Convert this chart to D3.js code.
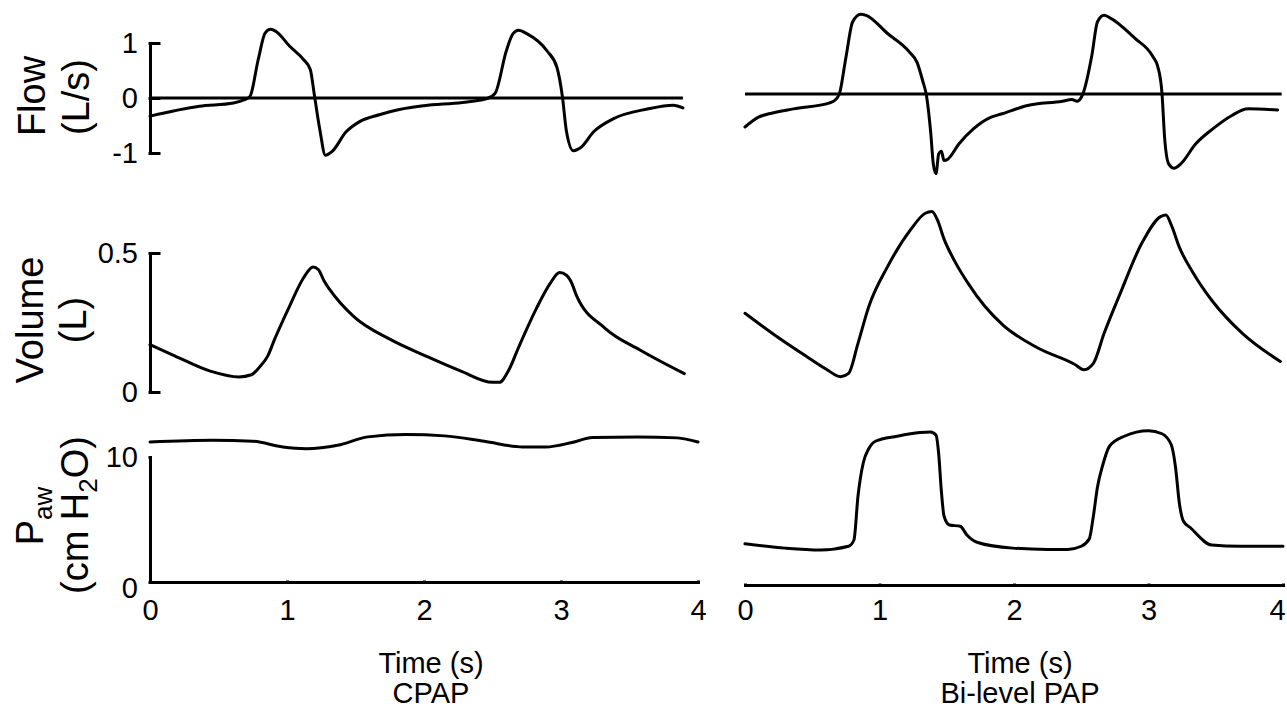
<!DOCTYPE html>
<html>
<head>
<meta charset="utf-8">
<script src="https://cdn.jsdelivr.net/npm/d3@7"></script>
<style>
    body { margin: 0; background: #fff; }
    svg { display: block; }
    text { font-family: "Liberation Sans", Arial, sans-serif; fill: #000; }
</style>
</head>
<body>
<div id="chart"></div>
<script>
// values: [time (s), value]
const timeTicks = [0, 1, 2, 3, 4];

const cpapFlow = [[0,-0.33],[0.36,-0.15],[0.61,-0.09],[0.69,-0.03],[0.73,0.03],[0.79,0.70],[0.84,1.18],[0.88,1.25],[0.92,1.21],
    [1.02,0.94],[1.12,0.70],[1.17,0.52],[1.20,0.05],[1.24,-0.58],[1.28,-1.04],[1.33,-0.97],[1.43,-0.62],[1.53,-0.43],[1.68,-0.30],
    [1.82,-0.21],[2.0,-0.14],[2.28,-0.08],[2.46,-0.01],[2.52,0.09],[2.60,0.85],[2.65,1.17],[2.69,1.23],[2.75,1.17],[2.90,0.85],
    [2.97,0.56],[3.01,0.03],[3.04,-0.61],[3.09,-0.96],[3.14,-0.91],[3.24,-0.61],[3.38,-0.38],[3.63,-0.20],[3.82,-0.13],[3.89,-0.18]];

const cpapVolume = [[0,0.17],[0.18,0.13],[0.44,0.075],[0.65,0.054],[0.74,0.062],[0.80,0.09],[0.86,0.13],[0.91,0.19],[1.02,0.31],
    [1.12,0.41],[1.19,0.45],[1.23,0.44],[1.27,0.40],[1.31,0.37],[1.49,0.27],[1.75,0.19],[2.01,0.13],[2.27,0.075],[2.50,0.035],
    [2.55,0.035],[2.62,0.08],[2.69,0.16],[2.82,0.30],[2.92,0.39],[2.99,0.43],[3.04,0.42],[3.08,0.39],[3.11,0.35],[3.32,0.23],
    [3.58,0.15],[3.90,0.066]];

const cpapPressure = [[0,11.2],[0.46,11.34],[0.75,11.26],[0.97,10.8],[1.14,10.67],[1.37,10.94],[1.59,11.61],[1.87,11.8],[2.15,11.69],
    [2.44,11.26],[2.72,10.8],[2.89,10.8],[3.08,11.16],[3.23,11.56],[3.56,11.61],[3.85,11.53],[4.0,11.2]];

const biFlow = [[0,-0.60],[0.10,-0.42],[0.18,-0.36],[0.36,-0.27],[0.63,-0.16],[0.66,-0.13],[0.70,-0.01],[0.75,0.66],[0.80,1.31],
    [0.86,1.45],[0.90,1.43],[1.06,1.10],[1.22,0.77],[1.28,0.57],[1.32,0.25],[1.35,-0.04],[1.38,-0.68],[1.40,-1.27],[1.42,-1.45],
    [1.44,-1.09],[1.46,-1.04],[1.48,-1.21],[1.51,-1.18],[1.59,-0.91],[1.70,-0.63],[1.83,-0.42],[1.91,-0.36],[2.10,-0.21],[2.36,-0.13],
    [2.43,-0.10],[2.47,-0.13],[2.51,-0.01],[2.58,0.72],[2.62,1.31],[2.67,1.43],[2.71,1.39],[2.90,1.01],[3.03,0.69],[3.07,0.49],
    [3.10,0.02],[3.12,-0.80],[3.15,-1.27],[3.19,-1.35],[3.24,-1.27],[3.35,-0.91],[3.48,-0.63],[3.62,-0.39],[3.74,-0.27],[3.96,-0.29]];

const biVolume = [[0,0.283],[0.22,0.205],[0.45,0.13],[0.61,0.08],[0.71,0.055],[0.77,0.067],[0.84,0.175],[0.92,0.307],[1.06,0.451],
    [1.23,0.583],[1.34,0.643],[1.39,0.649],[1.43,0.62],[1.48,0.55],[1.56,0.47],[1.66,0.39],[1.78,0.31],[1.92,0.24],[2.17,0.16],
    [2.45,0.10],[2.52,0.08],[2.59,0.103],[2.67,0.211],[2.79,0.355],[2.95,0.535],[3.09,0.631],[3.13,0.637],[3.17,0.60],[3.23,0.52],
    [3.33,0.43],[3.47,0.33],[3.70,0.21],[3.98,0.11]];

const biPressure = [[0,3.3],[0.3,2.95],[0.56,2.8],[0.77,3.1],[0.81,3.6],[0.84,7.1],[0.88,9.8],[0.92,10.9],[0.97,11.5],[1.13,11.9],
    [1.30,12.2],[1.38,12.25],[1.42,12.0],[1.44,10.5],[1.46,7.5],[1.48,5.5],[1.52,4.8],[1.60,4.7],[1.65,4.0],[1.73,3.4],[1.99,2.95],
    [2.25,2.85],[2.40,2.85],[2.50,3.1],[2.56,3.7],[2.59,5.5],[2.62,7.8],[2.66,9.6],[2.71,11.1],[2.82,11.9],[3.0,12.35],[3.10,12.1],
    [3.17,11.2],[3.20,9.5],[3.23,6.5],[3.26,5.1],[3.31,4.6],[3.47,3.2],[3.68,3.1],[4.0,3.1]];

const flowTicks = [-1, 0, 1];
const volumeTicks = [0, 0.5];
const pressureTicks = [0, 10];

// plain tick text: "-1", "0.5", "10" (hyphen, no trailing zeros)
const plain = d => String(d);

// SVG
const width = 1287, height = 713;
const svg = d3.select("#chart").append("svg")
    .attr("width", width)
    .attr("height", height);

const xLeft = d3.scaleLinear().domain([0, 4]).range([150, 698]);
const xRight = d3.scaleLinear().domain([0, 4]).range([745, 1283]);

const yFlowL = d3.scaleLinear().domain([-1, 1]).range([153, 43]);
const yFlowR = d3.scaleLinear().domain([-1, 1]).range([149, 39]);
const yVolL = d3.scaleLinear().domain([0, 0.5]).range([392, 253]);
const yVolR = d3.scaleLinear().domain([0, 0.5]).range([392, 253]);
const yPresL = d3.scaleLinear().domain([0, 10]).range([582, 457]);
const yPresR = d3.scaleLinear().domain([0, 10]).range([585, 460]);

const lw = 3;

function trace(data, x, y) {
    const line = d3.line()
        .x(d => x(d[0]))
        .y(d => y(d[1]))
        .curve(d3.curveMonotoneX);
    svg.append("path")
        .datum(data)
        .attr("d", line)
        .attr("fill", "none")
        .attr("stroke", "#000")
        .attr("stroke-width", lw)
        .attr("stroke-linejoin", "round")
        .attr("stroke-linecap", "round");
}

function styleAxis(g, fontSize) {
    g.selectAll("path, line")
        .attr("stroke", "#000")
        .attr("stroke-width", lw)
        .attr("stroke-linecap", "square");
    g.selectAll("text")
        .attr("font-size", fontSize)
        .attr("font-family", "Liberation Sans, Arial, sans-serif")
        .attr("fill", "#000");
    g.attr("font-size", null).attr("font-family", null);
}

// zero lines of the flow rows
svg.append("line")
    .attr("x1", xLeft(0)).attr("x2", xLeft(3.89))
    .attr("y1", yFlowL(0)).attr("y2", yFlowL(0))
    .attr("stroke", "#000").attr("stroke-width", lw);
svg.append("line")
    .attr("x1", xRight(0)).attr("x2", xRight(3.99))
    .attr("y1", yFlowR(0)).attr("y2", yFlowR(0))
    .attr("stroke", "#000").attr("stroke-width", lw);

// y axes (left column only)
svg.append("g")
    .attr("transform", "translate(" + xLeft(0) + ",0)")
    .call(d3.axisLeft(yFlowL).tickValues(flowTicks).tickFormat(plain).tickSizeInner(-9).tickSizeOuter(0).tickPadding(12))
    .call(g => styleAxis(g, 29));

svg.append("g")
    .attr("transform", "translate(" + xLeft(0) + ",0)")
    .call(d3.axisLeft(yVolL).tickValues(volumeTicks).tickFormat(plain).tickSizeInner(-9).tickSizeOuter(0).tickPadding(12))
    .call(g => styleAxis(g, 29));

svg.append("g")
    .attr("transform", "translate(" + xLeft(0) + ",0)")
    .call(d3.axisLeft(yPresL).tickValues(pressureTicks).tickFormat(plain).tickSize(0).tickPadding(12))
    .call(g => styleAxis(g, 29))
    .call(g => g.selectAll(".tick text").filter(d => d === 0).attr("dy", "0.55em"));

// x axes
svg.append("g")
    .attr("transform", "translate(0," + yPresL(0) + ")")
    .call(d3.axisBottom(xLeft).tickValues(timeTicks).tickFormat(plain).tickSize(0).tickPadding(17))
    .call(g => styleAxis(g, 29));

svg.append("g")
    .attr("transform", "translate(0," + yPresR(0) + ")")
    .call(d3.axisBottom(xRight).tickValues(timeTicks).tickFormat(plain).tickSize(0).tickPadding(14))
    .call(g => styleAxis(g, 29))
    .call(g => g.selectAll(".tick text").filter(d => d === 4).attr("dx", -6));

// traces
trace(cpapFlow, xLeft, yFlowL);
trace(cpapVolume, xLeft, yVolL);
trace(cpapPressure, xLeft, yPresL);
trace(biFlow, xRight, yFlowR);
trace(biVolume, xRight, yVolR);
trace(biPressure, xRight, yPresR);

// y labels
function yLabel(x, y, build) {
    const t = svg.append("text")
        .attr("transform", "translate(" + x + "," + y + ") rotate(-90)")
        .attr("text-anchor", "middle")
        .attr("font-size", 38);
    build(t);
}
yLabel(45, 96, t => t.text("Flow"));
yLabel(89, 97, t => t.text("(L/s)"));
yLabel(43, 320, t => t.text("Volume"));
yLabel(86, 320, t => t.text("(L)"));
yLabel(43, 516, t => {
    t.append("tspan").text("P");
    t.append("tspan").attr("dy", 9).attr("font-size", 26).text("aw");
});
yLabel(88, 515, t => {
    t.append("tspan").text("(cm H");
    t.append("tspan").attr("dy", 9).attr("font-size", 26).text("2");
    t.append("tspan").attr("dy", -9).text("O)");
});

// x labels
svg.append("text").attr("x", 431).attr("y", 673).attr("text-anchor", "middle").attr("font-size", 29).text("Time (s)");
svg.append("text").attr("x", 431).attr("y", 703).attr("text-anchor", "middle").attr("font-size", 29).text("CPAP");
svg.append("text").attr("x", 1020).attr("y", 673).attr("text-anchor", "middle").attr("font-size", 29).text("Time (s)");
svg.append("text").attr("x", 1020).attr("y", 703).attr("text-anchor", "middle").attr("font-size", 29).text("Bi-level PAP");
</script>
</body>
</html>
